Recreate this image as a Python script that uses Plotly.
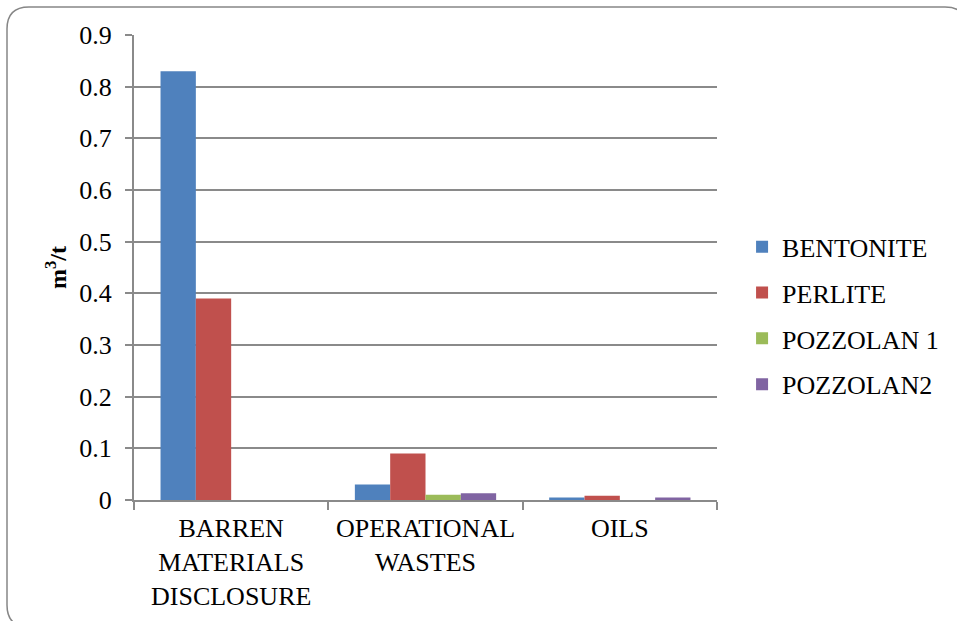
import plotly.graph_objects as go

categories = ["BARREN<br>MATERIALS<br>DISCLOSURE", "OPERATIONAL<br>WASTES", "OILS"]
series_names = ["BENTONITE", "PERLITE", "POZZOLAN 1", "POZZOLAN2"]
bentonite = [0.83, 0.03, 0.005]
perlite = [0.39, 0.09, 0.008]
pozzolan1 = [0.0, 0.01, 0.0]
pozzolan2 = [0.0, 0.013, 0.005]
series_values = [bentonite, perlite, pozzolan1, pozzolan2]
colors = ["#4F81BD", "#C0504D", "#9BBB59", "#8064A2"]
y_ticks = [0, 0.1, 0.2, 0.3, 0.4, 0.5, 0.6, 0.7, 0.8, 0.9]
y_tick_labels = ["0", "0.1", "0.2", "0.3", "0.4", "0.5", "0.6", "0.7", "0.8", "0.9"]

W, H = 957, 621
ML, MR, MT, MB = 134, 240, 35, 121
PW, PH = W - ML - MR, H - MT - MB

fig = go.Figure()
for name, vals, col in zip(series_names, series_values, colors):
    fig.add_trace(go.Bar(name=name, x=categories, y=vals, marker_color=col,
                         marker_line_width=0, legendgroup=name))

font_family = "Liberation Serif"
grid_col = "#8A8A8A"
FS = 26


def px_x(p):
    return (p - ML) / PW


def px_y(p):
    return 1 - (p - MT) / PH


# rounded chart-area frame
x0, y0, x1, y1, r = 7, 7, 967, 627, 22
path = (f"M {px_x(x0 + r)},{px_y(y0)} L {px_x(x1 - r)},{px_y(y0)} "
        f"Q {px_x(x1)},{px_y(y0)} {px_x(x1)},{px_y(y0 + r)} "
        f"L {px_x(x1)},{px_y(y1 - r)} Q {px_x(x1)},{px_y(y1)} {px_x(x1 - r)},{px_y(y1)} "
        f"L {px_x(x0 + r)},{px_y(y1)} Q {px_x(x0)},{px_y(y1)} {px_x(x0)},{px_y(y1 - r)} "
        f"L {px_x(x0)},{px_y(y0 + r)} Q {px_x(x0)},{px_y(y0)} {px_x(x0 + r)},{px_y(y0)} Z")

fig.update_layout(
    width=W, height=H,
    margin=dict(l=ML, r=MR, t=MT, b=MB, autoexpand=False),
    paper_bgcolor="white", plot_bgcolor="white",
    barmode="group", bargap=0.273, bargroupgap=0,
    font=dict(family=font_family, size=FS, color="black"),
    showlegend=True,
    legend=dict(x=1.043, y=0.396, xanchor="left", yanchor="middle",
                font=dict(family=font_family, size=FS, color="black"),
                itemwidth=30, tracegroupgap=9, traceorder="grouped",
                bgcolor="rgba(0,0,0,0)"),
    shapes=[dict(type="path", xref="paper", yref="paper", path=path,
                 line=dict(color="#868686", width=1.5), layer="below")],
    xaxis=dict(showgrid=False, showline=True, linecolor=grid_col, linewidth=2,
               ticks="outside", tickson="boundaries", ticklen=8, tickwidth=2,
               tickcolor=grid_col, tickangle=0, ticklabelstandoff=4,
               automargin=False,
               tickfont=dict(family=font_family, size=FS, color="black")),
    yaxis=dict(range=[0, 0.9], tickvals=y_ticks, ticktext=y_tick_labels,
               showgrid=True, gridcolor=grid_col, gridwidth=1.5,
               showline=True, linecolor=grid_col, linewidth=2,
               ticks="outside", ticklen=7, tickwidth=1.5, tickcolor=grid_col,
               zeroline=False, ticklabelstandoff=8, automargin=False,
               tickfont=dict(family=font_family, size=FS, color="black"),
               title=dict(text="<b>m<sup>3</sup>/t</b>", standoff=6,
                          font=dict(family=font_family, size=24, color="black"))),
)

fig.write_html("out.html")
